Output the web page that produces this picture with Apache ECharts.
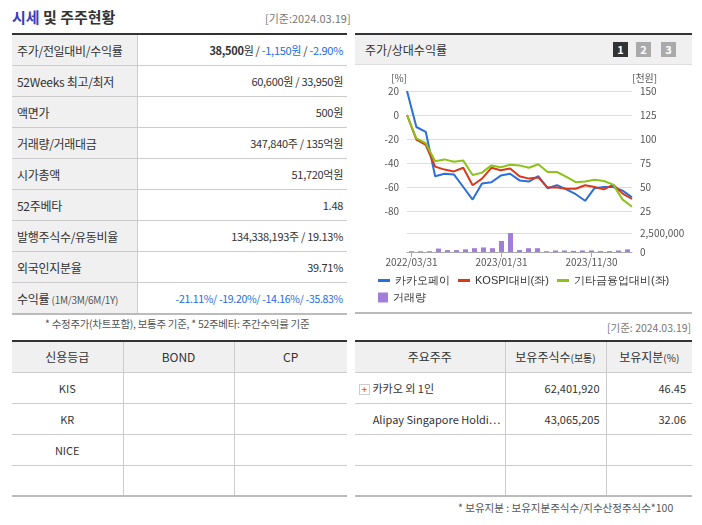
<!DOCTYPE html>
<html><head><meta charset="utf-8">
<script src="https://cdn.jsdelivr.net/npm/echarts@6/dist/echarts.min.js"></script>
<style>
body{margin:0;width:702px;height:525px;background:#fff;font-family:"Noto Sans CJK KR","Noto Sans",sans-serif;color:#333;position:relative;overflow:hidden}
.abs{position:absolute}
table{border-collapse:collapse;font-size:11px}
#t1{left:12px;top:33px;width:335px;border-top:2px solid #333;border-bottom:2px solid #bbb}
#t1 td{height:30px;border-bottom:1px solid #ccc;padding:0 5px;letter-spacing:-0.3px}
#t1 td.l{background:#f0f0f0;width:115px;border-right:1px solid #ccc;font-size:12px}
#t1 td.r{text-align:right;padding-right:4px}
.b{color:#1a6ee0}
.bt{border-collapse:collapse;font-size:11px;border-top:2px solid #333;border-bottom:2px solid #bbb}
.bt td{height:31px;padding:0;border-bottom:1px solid #ccc;border-right:1px solid #ccc;text-align:center;box-sizing:border-box}
.bt td:last-child{border-right:none}
.bt tr:first-child td{background:#f0f0f0;font-size:12px}
#rp{left:355px;top:33px;width:337px;height:277px;border-top:2px solid #333;border-bottom:2px solid #bbb}
#rh{height:29px;background:#f0f0f0;border-bottom:1px solid #ddd;font-size:12px;line-height:29px;padding-left:10px;position:relative}
.pg{position:absolute;top:7px;width:15px;height:15px;color:#fff;font-size:11px;font-weight:bold;text-align:center;line-height:15px}
</style></head><body>
<div class="abs" style="left:12px;top:6px;font-size:15px;font-weight:bold;"><span style="color:#3b3bbf">시세</span> 및 주주현황</div>
<div class="abs" style="left:265px;top:10px;font-size:11px;color:#777">[기준:2024.03.19]</div>
<table id="t1" class="abs">
<tr><td class="l">주가/전일대비/수익률</td><td class="r"><b>38,500</b>원 / <span class="b">-1,150원</span> / <span class="b">-2.90%</span></td></tr>
<tr><td class="l">52Weeks 최고/최저</td><td class="r">60,600원 / 33,950원</td></tr>
<tr><td class="l">액면가</td><td class="r">500원</td></tr>
<tr><td class="l">거래량/거래대금</td><td class="r">347,840주 / 135억원</td></tr>
<tr><td class="l">시가총액</td><td class="r">51,720억원</td></tr>
<tr><td class="l">52주베타</td><td class="r">1.48</td></tr>
<tr><td class="l">발행주식수/유동비율</td><td class="r">134,338,193주 / 19.13%</td></tr>
<tr><td class="l">외국인지분율</td><td class="r">39.71%</td></tr>
<tr><td class="l">수익률 <span style="font-size:10px;color:#555">(1M/3M/6M/1Y)</span></td><td class="r b" style="font-size:10.5px">-21.11%/ -19.20%/ -14.16%/ -35.83%</td></tr>
</table>
<div id="rp" class="abs"><div id="rh">주가/상대수익률
<div class="pg" style="left:258px;background:#333">1</div><div class="pg" style="left:281px;background:#aaa">2</div><div class="pg" style="left:306px;background:#aaa">3</div></div></div>
<div id="c" class="abs" style="left:355px;top:64px;width:337px;height:246px"></div>
<div class="abs" style="left:45px;top:316px;font-size:10.5px;color:#555;letter-spacing:-0.3px">* 수정주가(차트포함), 보통주 기준, * 52주베타: 주간수익률 기준</div>
<div class="abs" style="left:607px;top:320px;font-size:10.5px;color:#777">[기준: 2024.03.19]</div>
<table class="bt abs" style="left:12px;top:340px;width:335px">
<tr><td style="width:111px">신용등급</td><td style="width:111px">BOND</td><td>CP</td></tr>
<tr><td>KIS</td><td></td><td></td></tr><tr><td>KR</td><td></td><td></td></tr><tr><td>NICE</td><td></td><td></td></tr><tr><td></td><td></td><td></td></tr>
</table>
<table class="bt abs" style="left:355px;top:340px;width:337px">
<tr><td style="width:150px">주요주주</td><td style="width:101px">보유주식수<span style="font-size:10px">(보통)</span></td><td>보유지분<span style="font-size:10px">(%)</span></td></tr>
<tr><td style="text-align:left;padding-left:4px"><span style="display:inline-block;width:9px;height:9px;border:1px solid #ccc;color:#f60;font-size:9px;line-height:9px;text-align:center;font-weight:bold">+</span> 카카오 외 1인</td><td style="text-align:right;padding-right:6px">62,401,920</td><td style="text-align:right;padding-right:6px">46.45</td></tr>
<tr><td style="text-align:right;padding-right:4px">Alipay Singapore Holdi…</td><td style="text-align:right;padding-right:6px">43,065,205</td><td style="text-align:right;padding-right:6px">32.06</td></tr>
<tr><td></td><td></td><td></td></tr><tr><td></td><td></td><td></td></tr>
</table>
<div class="abs" style="left:458px;top:500px;font-size:10.5px;color:#555">* 보유지분 : 보유지분주식수/지수산정주식수*100</div>
<script>
const categories=['2022/03/31','2022/04/30','2022/05/31','2022/06/30','2022/07/31','2022/08/31','2022/09/30','2022/10/31','2022/11/30','2022/12/31','2023/01/31','2023/02/28','2023/03/31','2023/04/30','2023/05/31','2023/06/30','2023/07/31','2023/08/31','2023/09/30','2023/10/31','2023/11/30','2023/12/31','2024/01/31','2024/02/29','2024/03/19'];
const kakaoPay=[20,-10,-14,-51,-49,-49.5,-60,-70.5,-57,-56,-50.5,-49,-54.5,-55.5,-51,-61,-58.5,-62,-66,-71.5,-61,-60,-60,-63,-68.5];
const kospiRel=[0,-20.5,-25,-43,-45.5,-47,-44,-58.5,-53,-44,-46,-44.5,-51,-53,-52,-60.5,-60.5,-61.5,-61.5,-58.5,-60,-62,-58,-65.5,-70];
const finRel=[0,-19.5,-23.5,-38.5,-37,-39,-38,-50,-48,-42,-43.5,-41.5,-42,-44,-41,-47.5,-47.5,-51.5,-56,-55.5,-54,-55,-58,-70.5,-76.5];
const volume=[100000,100000,100000,450000,250000,250000,350000,500000,600000,500000,1450000,3200000,250000,500000,500000,100000,200000,200000,150000,200000,200000,120000,120000,200000,350000];
const names=['카카오페이','KOSPI대비(좌)','기타금융업대비(좌)','거래량'];
const colors=['#2a6fdb','#d9391b','#8cc21a','#a07ed9'];
const ch=echarts.init(document.getElementById('c'));
const tx={color:'#555',fontSize:10,fontFamily:'Noto Sans CJK KR'};
ch.setOption({animation:false,
grid:[{left:52,right:60,top:27,height:120},{left:52,right:60,top:169,height:19}],
xAxis:[{type:'category',data:categories,gridIndex:0,boundaryGap:false,axisLine:{show:false},axisTick:{show:false},axisLabel:{show:false}},
{type:'category',data:categories,gridIndex:1,axisLine:{lineStyle:{color:'#aaa'}},axisTick:{show:true,interval:9,alignWithLabel:true,lineStyle:{color:'#aaa'}},axisLabel:Object.assign({interval:9,margin:5},tx)}],
yAxis:[{gridIndex:0,min:-80,max:20,interval:20,axisLabel:tx,splitLine:{lineStyle:{color:'#ddd'}},name:'[%]',nameGap:8,nameTextStyle:Object.assign({align:'right'},tx)},
{gridIndex:0,position:'right',min:25,max:150,interval:25,axisLabel:tx,splitLine:{show:false},name:'[천원]',nameGap:8,nameTextStyle:Object.assign({align:'left'},tx)},
{gridIndex:1,min:0,max:2500000,interval:2500000,position:'right',axisLabel:Object.assign({formatter:v=>v.toLocaleString('en-US')},tx),splitLine:{lineStyle:{color:'#ddd'}}}],
legend:[{data:names.slice(0,3),left:18,top:206,itemWidth:12,itemHeight:3,icon:'rect',itemGap:8,textStyle:{color:'#333',fontSize:11}},
{data:[names[3]],left:18,top:223,itemWidth:10,itemHeight:10,icon:'rect',textStyle:{color:'#333',fontSize:11}}],
series:[
{name:names[0],type:'line',data:kakaoPay,symbol:'none',lineStyle:{width:2,color:colors[0]},itemStyle:{color:colors[0]}},
{name:names[1],type:'line',data:kospiRel,symbol:'none',lineStyle:{width:2,color:colors[1]},itemStyle:{color:colors[1]}},
{name:names[2],type:'line',data:finRel,symbol:'none',lineStyle:{width:2,color:colors[2]},itemStyle:{color:colors[2]}},
{name:names[3],type:'bar',xAxisIndex:1,yAxisIndex:2,data:volume,barWidth:5,itemStyle:{color:colors[3]}}]});
</script></body></html>
